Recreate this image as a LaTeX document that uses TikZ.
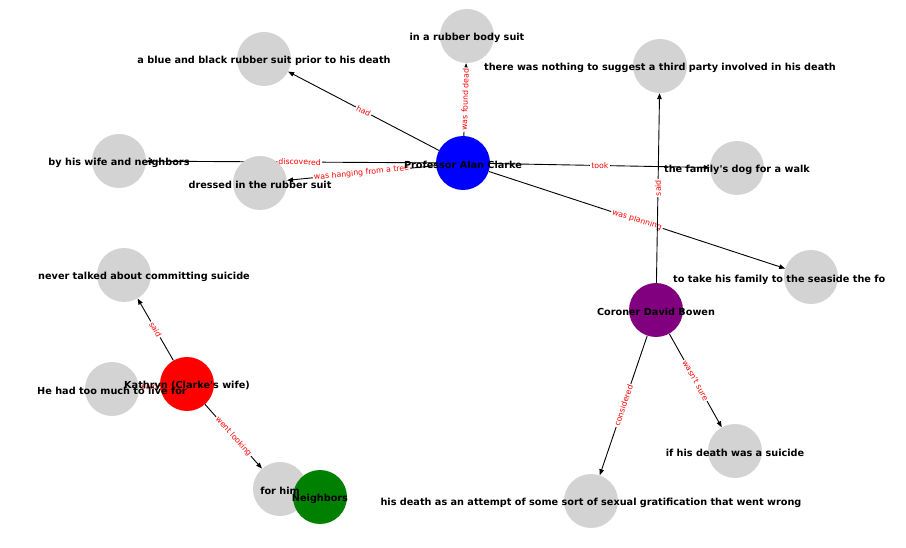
\documentclass[tikz,border=0pt]{standalone}
\usepackage{fontspec}
\setmainfont{DejaVu Sans}
\usetikzlibrary{arrows.meta}
\definecolor{nodegray}{HTML}{D3D3D3}
\definecolor{nodeblue}{HTML}{0000FF}
\definecolor{nodered}{HTML}{FF0000}
\definecolor{nodepurple}{HTML}{800080}
\definecolor{nodegreen}{HTML}{008000}
\pgfdeclarelayer{edges}
\pgfsetlayers{edges,main}

\begin{document}
\begin{tikzpicture}[x=1pt, y=-1pt,
    dot/.style={circle, minimum size=54pt, inner sep=0pt, fill=#1},
    dot/.default=nodegray,
    txt/.style={font=\fontsize{9.7}{11}\selectfont\bfseries, inner sep=0pt, yshift=-1.5pt},
    rel/.style={-{Triangle[length=6pt,width=4.5pt]}, line width=0.9pt, draw=black},
    lbl/.style={sloped, midway, fill=white, text=red, inner sep=1.2pt, font=\fontsize{7.8}{9}\selectfont}]

        \useasboundingbox (0,0) rectangle (906,548);

        % Nodes
        \node[dot=nodeblue] (clarke) at (463,163) {};
        \node[dot=nodepurple] (bowen) at (656,310) {};
        \node[dot=nodered] (kathryn) at (187,384) {};
        \node[dot] (bodysuit) at (467,36) {};
        \node[dot] (blacksuit) at (264,59) {};
        \node[dot] (nothing) at (660,66) {};
        \node[dot] (wife) at (119,161) {};
        \node[dot] (dressed) at (260,183) {};
        \node[dot] (dog) at (737,168) {};
        \node[dot] (seaside) at (811,277) {};
        \node[dot] (never) at (124,275) {};
        \node[dot] (toomuch) at (112,389) {};
        \node[dot] (forhim) at (280,489) {};
        \node[dot] (suicide) at (735,451) {};
        \node[dot] (attempt) at (591,501) {};
        \node[dot=nodegreen] (neighbors) at (320,497) {};

        % Edges, drawn under the nodes
        \begin{pgfonlayer}{edges}
          \draw[rel] (clarke) -- node[lbl] {was found dead} (bodysuit);
          \draw[rel] (clarke) -- node[lbl] {had} (blacksuit);
          \draw[rel] (clarke) -- node[lbl, pos=0.47] {discovered} (wife);
          \draw[rel] (clarke) -- node[lbl] {was hanging from a tree} (dressed);
          \draw[rel] (clarke) -- node[lbl] {took} (dog);
          \draw[rel] (clarke) -- node[lbl] {was planning} (seaside);
          \draw[rel] (bowen) -- node[lbl] {said} (nothing);
          \draw[rel] (bowen) -- node[lbl] {wasn\textquotesingle t sure} (suicide);
          \draw[rel] (bowen) -- node[lbl] {considered} (attempt);
          \draw[rel] (kathryn) -- node[lbl] {said} (never);
          \draw[rel] (kathryn) -- node[lbl] {said} (toomuch);
          \draw[rel] (kathryn) -- node[lbl] {went looking} (forhim);
        \end{pgfonlayer}

        % Node labels
        \begin{scope}
          \clip (38,0) rectangle (884,548);
          \node[txt] at (clarke) {Professor Alan Clarke};
          \node[txt] at (bowen) {Coroner David Bowen};
          \node[txt] at (kathryn) {Kathryn (Clarke\textquotesingle s wife)};
          \node[txt] at (bodysuit) {in a rubber body suit};
          \node[txt] at (blacksuit) {a blue and black rubber suit prior to his death};
          \node[txt] at (nothing) {there was nothing to suggest a third party involved in his death};
          \node[txt] at (wife) {by his wife and neighbors};
          \node[txt] at (dressed) {dressed in the rubber suit};
          \node[txt] at (dog) {the family\textquotesingle s dog for a walk};
          \node[txt, anchor=west] at (673,278) {to take his family to the seaside the fo};
          \node[txt, anchor=east] at (250,275) {never talked about committing suicide};
          \node[txt] at (toomuch) {He had too much to live for};
          \node[txt] at (forhim) {for him};
          \node[txt] at (suicide) {if his death was a suicide};
          \node[txt] at (attempt) {his death as an attempt of some sort of sexual gratification that went wrong};
          \node[txt] at (neighbors) {Neighbors};
        \end{scope}
      \end{tikzpicture}
\end{document}
